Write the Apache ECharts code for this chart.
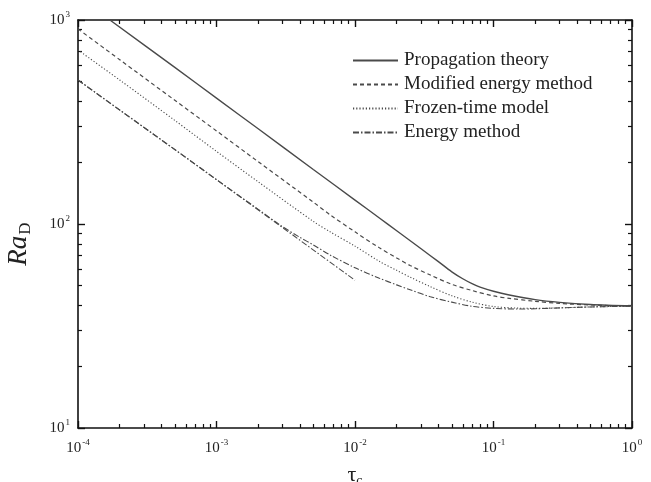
<!DOCTYPE html>
<html lang="en">
<head>
    <meta charset="UTF-8">
    <title>Ra_D vs tau_c</title>
    <script src="https://cdn.jsdelivr.net/npm/echarts@6/dist/echarts.min.js"></script>
    <style>
        html, body { margin: 0; padding: 0; background: #fff; }
        #chart { width: 651px; height: 482px; }
    </style>
</head>
<body>
<div id="chart"></div>
<script>
    // 读图得到的数据 (tau_c, Ra_D)
    const tauProp = [1.7e-4, 5e-4, 1e-3, 2e-3, 5e-3, 0.01, 0.015, 0.02, 0.03, 0.04, 0.05, 0.06, 0.07, 0.08, 0.1, 0.13, 0.2, 0.3, 0.5, 1];
    const raProp  = [1000, 586, 414, 293, 185, 131, 107, 92.6, 75.6, 65.4, 58.3, 53.9, 51, 49, 46.8, 44.9, 42.6, 41.3, 40.3, 39.6];

    const tauMod = [1e-4, 2e-4, 5e-4, 1e-3, 2e-3, 5e-3, 0.0066, 0.01, 0.015, 0.02, 0.025, 0.035, 0.05, 0.07, 0.1, 0.13, 0.2, 0.3, 0.5, 1];
    const raMod  = [904, 639, 404, 286, 202, 128, 111, 91.5, 76.4, 68.2, 62.6, 56.2, 50.6, 47.2, 44.4, 43.2, 41.8, 40.8, 40.1, 39.6];

    const tauFrozen = [1e-4, 2e-4, 5e-4, 1e-3, 2e-3, 5e-3, 0.0066, 0.01, 0.015, 0.02, 0.025, 0.035, 0.05, 0.07, 0.1, 0.15, 0.2, 0.3, 0.5, 1];
    const raFrozen  = [713, 508, 322, 227, 161, 103, 91.6, 77.9, 65.6, 59.3, 54.9, 49.3, 44.5, 41.4, 39.4, 38.7, 38.6, 38.8, 39.2, 39.6];

    const tauEnergy = [1e-4, 2e-4, 5e-4, 1e-3, 2e-3, 2.9e-3, 4e-3, 5e-3, 0.0066, 0.01, 0.015, 0.02, 0.025, 0.035, 0.05, 0.07, 0.1, 0.15, 0.2, 0.3, 0.5, 1];
    const raEnergy  = [508, 362, 232, 165, 118, 98.5, 86, 79, 70.5, 61, 54.2, 50.3, 47.6, 44, 41.4, 39.5, 38.6, 38.3, 38.4, 38.8, 39.2, 39.6];

    // 能量法短时渐近线
    const tauAsym = [1e-4, 1e-3, 1e-2];
    const raAsym  = [508, 165, 53];

    const xMajor = [1e-4, 1e-3, 1e-2, 1e-1, 1];
    const yMajor = [10, 100, 1000];

    const names = ['Propagation theory', 'Modified energy method', 'Frozen-time model', 'Energy method'];

    function pairs(xs, ys) {
        return xs.map((x, i) => [x, ys[i]]);
    }
    function minorTicks(lo, hi) {
        let out = [];
        for (let d = lo; d < hi; d++) {
            for (let k = 2; k <= 9; k++) out.push(k * Math.pow(10, d));
        }
        return out;
    }
    const xMinor = minorTicks(-4, 0);
    const yMinor = minorTicks(1, 3);

    const font = 'Liberation Serif';
    const lineColor = '#4a4a4a';
    const supRich = {
        b: { fontFamily: font, fontSize: 15, color: '#222', lineHeight: 20 },
        s: { fontFamily: font, fontSize: 9, color: '#222', verticalAlign: 'top', lineHeight: 20, padding: [0, 0, 0, 1] }
    };
    function expLabel(v) {
        return '{b|10}{s|' + Math.round(Math.log10(v)) + '}';
    }

    function axisBase(extra) {
        return Object.assign({
            type: 'log',
            logBase: 10,
            gridIndex: 0,
            splitLine: { show: false },
            minorTick: { show: false },
            minorSplitLine: { show: false }
        }, extra);
    }

    const xCommon = { min: 1e-4, max: 1 };
    const yCommon = { min: 10, max: 1000 };

    const option = {
        backgroundColor: '#fff',
        animation: false,
        grid: { left: 78, right: 19, top: 20, bottom: 54, containLabel: false, outerBoundsMode: 'none' },
        legend: {
            data: names,
            orient: 'vertical',
            left: 347,
            top: 46,
            itemWidth: 45,
            itemHeight: 14,
            itemGap: 5,
            itemStyle: { opacity: 0 },
            textStyle: { fontFamily: font, fontSize: 19, color: '#222', padding: [0, 0, 0, 1] }
        },
        xAxis: [
            axisBase(Object.assign({
                position: 'bottom',
                name: '{t|τ}{c|c}',
                nameLocation: 'middle',
                nameGap: 27,
                nameTextStyle: {
                    rich: {
                        t: { fontFamily: font, fontSize: 22, color: '#222', lineHeight: 26 },
                        c: { fontFamily: font, fontSize: 14, color: '#222', verticalAlign: 'bottom', lineHeight: 26, padding: [14, 0, 0, 0] }
                    }
                },
                axisLine: { show: true, lineStyle: { color: '#111', width: 1.6 } },
                axisTick: { show: true, inside: true, length: 7, customValues: xMajor, lineStyle: { color: '#111', width: 1.4 } },
                axisLabel: { show: true, margin: 10, customValues: xMajor, formatter: expLabel, rich: supRich }
            }, xCommon)),
            axisBase(Object.assign({
                position: 'top',
                axisLine: { show: true, lineStyle: { color: '#111', width: 1.6 } },
                axisTick: { show: true, inside: true, length: 7, customValues: xMajor, lineStyle: { color: '#111', width: 1.4 } },
                axisLabel: { show: false }
            }, xCommon)),
            axisBase(Object.assign({
                position: 'bottom',
                axisLine: { show: false },
                axisTick: { show: true, inside: true, length: 4, customValues: xMinor, lineStyle: { color: '#111', width: 1.2 } },
                axisLabel: { show: false }
            }, xCommon)),
            axisBase(Object.assign({
                position: 'top',
                axisLine: { show: false },
                axisTick: { show: true, inside: true, length: 4, customValues: xMinor, lineStyle: { color: '#111', width: 1.2 } },
                axisLabel: { show: false }
            }, xCommon))
        ],
        yAxis: [
            axisBase(Object.assign({
                position: 'left',
                name: '{i|Ra}{d|D}{sp|}',
                nameLocation: 'middle',
                nameRotate: 90,
                nameGap: 44,
                nameTextStyle: {
                    rich: {
                        i: { fontFamily: font, fontSize: 27, fontStyle: 'italic', color: '#222', lineHeight: 30 },
                        d: { fontFamily: font, fontSize: 17, color: '#222', verticalAlign: 'bottom', lineHeight: 30, padding: [10, 0, 0, 1] },
                        sp: { width: 40, lineHeight: 30 }
                    }
                },
                axisLine: { show: true, lineStyle: { color: '#111', width: 1.6 } },
                axisTick: { show: true, inside: true, length: 7, customValues: yMajor, lineStyle: { color: '#111', width: 1.4 } },
                axisLabel: { show: true, margin: 8, customValues: yMajor, formatter: expLabel, rich: supRich }
            }, yCommon)),
            axisBase(Object.assign({
                position: 'right',
                axisLine: { show: true, lineStyle: { color: '#111', width: 1.6 } },
                axisTick: { show: true, inside: true, length: 7, customValues: yMajor, lineStyle: { color: '#111', width: 1.4 } },
                axisLabel: { show: false }
            }, yCommon)),
            axisBase(Object.assign({
                position: 'left',
                axisLine: { show: false },
                axisTick: { show: true, inside: true, length: 4, customValues: yMinor, lineStyle: { color: '#111', width: 1.2 } },
                axisLabel: { show: false }
            }, yCommon)),
            axisBase(Object.assign({
                position: 'right',
                axisLine: { show: false },
                axisTick: { show: true, inside: true, length: 4, customValues: yMinor, lineStyle: { color: '#111', width: 1.2 } },
                axisLabel: { show: false }
            }, yCommon))
        ],
        series: [
            {
                name: names[0], type: 'line', smooth: 0.3, symbol: 'none',
                lineStyle: { color: lineColor, width: 1.4, type: 'solid' },
                itemStyle: { color: lineColor },
                data: pairs(tauProp, raProp)
            },
            {
                name: names[1], type: 'line', smooth: 0.3, symbol: 'none',
                lineStyle: { color: lineColor, width: 1.2, type: [4, 3] },
                itemStyle: { color: lineColor },
                data: pairs(tauMod, raMod)
            },
            {
                name: names[2], type: 'line', smooth: 0.3, symbol: 'none',
                lineStyle: { color: lineColor, width: 1.1, type: [1.2, 2] },
                itemStyle: { color: lineColor },
                data: pairs(tauFrozen, raFrozen)
            },
            {
                name: names[3], type: 'line', smooth: 0.3, symbol: 'none',
                lineStyle: { color: lineColor, width: 1.1, type: [6, 2, 1.5, 2] },
                itemStyle: { color: lineColor },
                data: pairs(tauEnergy, raEnergy)
            },
            {
                name: 'Energy asymptote', type: 'line', symbol: 'none',
                lineStyle: { color: lineColor, width: 1.1, type: [6, 2, 1.5, 2] },
                itemStyle: { color: lineColor },
                data: pairs(tauAsym, raAsym)
            }
        ]
    };

    const chart = echarts.init(document.getElementById('chart'));
    chart.setOption(option);
</script>
</body>
</html>
